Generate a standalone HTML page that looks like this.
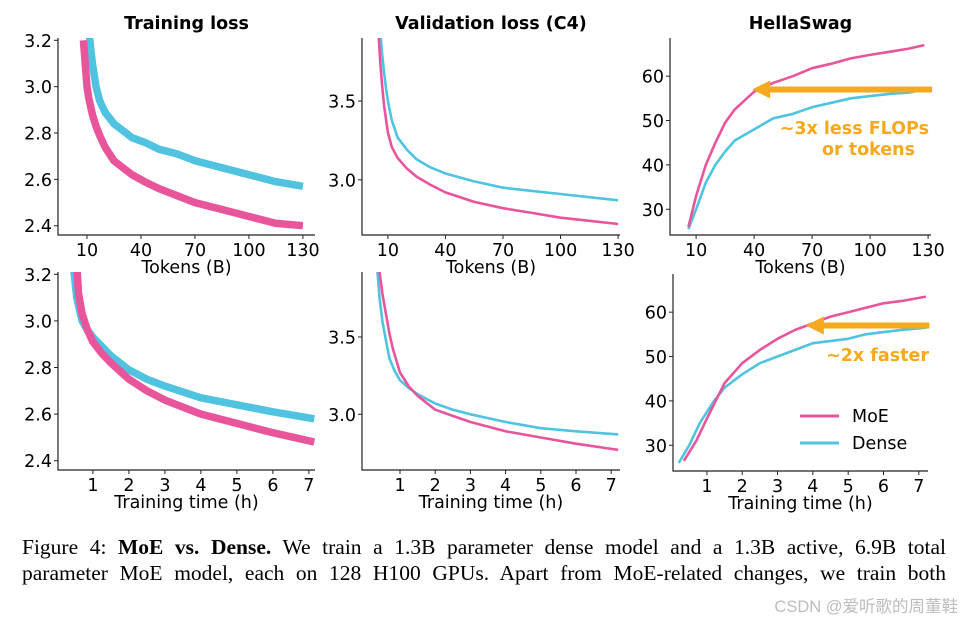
<!DOCTYPE html>
<html><head><meta charset="utf-8"><style>
body{margin:0;background:#fff;width:963px;height:621px;overflow:hidden;position:relative}
svg{position:absolute;left:0;top:0}
.cap{position:absolute;left:22px;width:924px;font-family:"Liberation Serif",serif;font-size:21.5px;text-align:justify;text-align-last:justify;white-space:nowrap;color:#000}
.wm{position:absolute;right:5px;top:593px;font-family:"Liberation Sans","Noto Sans CJK SC",sans-serif;font-size:16.5px;color:#bdbdbd}
</style></head><body>
<svg id="fig" width="963" height="530" font-family="DejaVu Sans, Liberation Sans, sans-serif"></svg>
<div class="cap" style="top:535px">Figure 4: <b>MoE vs. Dense.</b> We train a 1.3B parameter dense model and a 1.3B active, 6.9B total</div>
<div class="cap" style="top:561px">parameter MoE model, each on 128 H100 GPUs. Apart from MoE-related changes, we train both</div>
<div class="wm">CSDN @爱听歌的周董鞋</div>
<script>
// ---- data ----
const tokTrainMoeX=[8,9,10,11,13,15,17,20,25,30,35,42,50,60,70,85,100,115,130];
const tokTrainMoeY=[3.2,3.1,3.0,2.95,2.88,2.83,2.79,2.74,2.68,2.65,2.62,2.59,2.56,2.53,2.50,2.47,2.44,2.41,2.40];
const tokTrainDenseX=[11,12,13,14,15,17,20,25,30,35,42,50,60,70,85,100,115,130];
const tokTrainDenseY=[3.25,3.17,3.1,3.05,3.0,2.94,2.89,2.84,2.81,2.78,2.76,2.73,2.71,2.68,2.65,2.62,2.59,2.57];
const tokValMoeX=[5,6,7,8,10,12,15,20,25,32,40,55,70,85,100,115,130];
const tokValMoeY=[3.95,3.75,3.6,3.47,3.3,3.21,3.14,3.07,3.02,2.97,2.92,2.86,2.82,2.79,2.76,2.74,2.72];
const tokValDenseX=[6,7,8,9,10,12,15,20,25,32,40,55,70,85,100,115,130];
const tokValDenseY=[3.95,3.8,3.68,3.58,3.5,3.38,3.27,3.19,3.13,3.08,3.04,2.99,2.95,2.93,2.91,2.89,2.87];
const tokHsMoeX=[6,10,15,20,25,30,40,50,60,70,80,90,100,110,120,128];
const tokHsMoeY=[26,33,40,45,49.5,52.5,56.5,58.5,60,61.8,62.8,64,64.8,65.5,66.2,67];
const tokHsDenseX=[6,10,15,20,25,30,40,50,60,70,80,90,100,110,120,128];
const tokHsDenseY=[25.5,30,36,40,43,45.5,48,50.5,51.5,53,54,55,55.5,56,56.3,57];
const timeTrainMoeX=[0.55,0.6,0.7,0.85,1.0,1.25,1.5,2,2.5,3,4,5,6,7.15];
const timeTrainMoeY=[3.25,3.12,3.03,2.96,2.91,2.86,2.82,2.75,2.70,2.66,2.60,2.56,2.52,2.48];
const timeTrainDenseX=[0.45,0.55,0.7,0.85,1,1.25,1.5,2,2.5,3,4,5,6,7.15];
const timeTrainDenseY=[3.25,3.1,3.0,2.96,2.93,2.89,2.85,2.79,2.75,2.72,2.67,2.64,2.61,2.58];
const timeValMoeX=[0.4,0.5,0.6,0.7,0.8,1,1.25,1.5,2,2.5,3,4,5,6,7.2];
const timeValMoeY=[3.95,3.78,3.65,3.52,3.42,3.27,3.18,3.12,3.03,2.99,2.95,2.89,2.85,2.81,2.77];
const timeValDenseX=[0.35,0.42,0.5,0.6,0.7,0.85,1,1.25,1.5,2,2.5,3,4,5,6,7.2];
const timeValDenseY=[3.95,3.75,3.6,3.48,3.36,3.28,3.22,3.17,3.13,3.07,3.03,3.0,2.95,2.91,2.89,2.87];
const timeHsMoeX=[0.35,0.7,1,1.5,2,2.5,3,3.5,4,4.5,5,5.5,6,6.5,7.2];
const timeHsMoeY=[26.5,31,36,44,48.5,51.5,54,56,57.5,59,60,61,62,62.5,63.5];
const timeHsDenseX=[0.2,0.5,0.8,1.2,1.5,2,2.5,3,3.5,4,5,5.5,6,6.5,7.2];
const timeHsDenseY=[26,30,35,40,43,46,48.5,50,51.5,53,54,55,55.5,56,56.5];
const tokTicks=[10,40,70,100,130];
const timeTicks=[1,2,3,4,5,6,7];
const lossTicks=[2.4,2.6,2.8,3.0,3.2];
const valTicks=[3.0,3.5];
const hsTicks=[30,40,50,60];
// ---- drawing ----
const NS='http://www.w3.org/2000/svg';
const svg=document.getElementById('fig');
const PINK='#e9559b',CYAN='#4fc3e0',ORANGE='#f6a81e';
function mk(tag,at,parent){const e=document.createElementNS(NS,tag);for(const k in at)e.setAttribute(k,at[k]);(parent||svg).appendChild(e);return e;}
function panel(id,L,R,T,B,xd,yd,xt,yt,xfmt,yfmt,title,xlabel,series){
  const g=mk('g',{});
  
  
  const sx=v=>L+(v-xd[0])/(xd[1]-xd[0])*(R-L);
  const sy=v=>B-(v-yd[0])/(yd[1]-yd[0])*(B-T);
  const cp=mk('clipPath',{id:'c'+id},g);mk('rect',{x:L,y:T,width:R-L,height:B-T},cp);
  series.forEach(s=>{
    const p=mk('polyline',{points:s.x.map((v,i)=>sx(v).toFixed(1)+','+sy(s.y[i]).toFixed(1)).join(' '),fill:'none',stroke:s.c,'stroke-width':s.w,'stroke-linejoin':'round','clip-path':'url(#c'+id+')'},g);
    
    
  });
  mk('path',{d:`M${L},${T}V${B}H${R}`,stroke:'#222',fill:'none','stroke-width':1.2},g);
  xt.forEach(v=>{const x=sx(v);mk('line',{x1:x,x2:x,y1:B,y2:B+4,stroke:'#222'},g);
    const t=mk('text',{x:x,y:B+21,'text-anchor':'middle','font-size':17.5},g);t.textContent=xfmt(v);
    
    });
  yt.forEach(v=>{const y=sy(v);mk('line',{x1:L-4,x2:L,y1:y,y2:y,stroke:'#222'},g);
    const t=mk('text',{x:L-6,y:y+6.5,'text-anchor':'end','font-size':17.5},g);t.textContent=yfmt(v);
    
    });
  if(title){const t=mk('text',{x:(L+R)/2,y:T-9,'text-anchor':'middle','font-size':17.5,'font-weight':'bold'},g);t.textContent=title;
    
    }
  const xl=mk('text',{x:(L+R)/2,y:B+38,'text-anchor':'middle','font-size':17.5},g);xl.textContent=xlabel;
  
  
  return {sx,sy,g};
}
const f1=v=>v.toFixed(1),f0=v=>String(v);
const LW=7.5,VW=2.6;
panel('training-loss-tokens',58,315,38,235,[-6.1,136.7],[2.36,3.21],tokTicks,lossTicks,f0,f1,'Training loss','Tokens (B)',
 [{x:tokTrainDenseX,y:tokTrainDenseY,c:CYAN,w:LW,n:'dense-line'},{x:tokTrainMoeX,y:tokTrainMoeY,c:PINK,w:LW,n:'moe-line'}]);
panel('val-loss-tokens',362,620,38,235,[-3.5,131],[2.65,3.9],tokTicks,valTicks,f0,f1,'Validation loss (C4)','Tokens (B)',
 [{x:tokValDenseX,y:tokValDenseY,c:CYAN,w:VW,n:'dense-line'},{x:tokValMoeX,y:tokValMoeY,c:PINK,w:VW,n:'moe-line'}]);
const p3=panel('hellaswag-tokens',670,931,38,235,[-3.5,131.5],[24.2,68.6],tokTicks,hsTicks,f0,f0,'HellaSwag','Tokens (B)',
 [{x:tokHsDenseX,y:tokHsDenseY,c:CYAN,w:VW,n:'dense-line'},{x:tokHsMoeX,y:tokHsMoeY,c:PINK,w:VW,n:'moe-line'}]);
panel('training-loss-time',58,315,272,470,[0.03,7.17],[2.36,3.21],timeTicks,lossTicks,f0,f1,'','Training time (h)',
 [{x:timeTrainDenseX,y:timeTrainDenseY,c:CYAN,w:LW,n:'dense-line'},{x:timeTrainMoeX,y:timeTrainMoeY,c:PINK,w:LW,n:'moe-line'}]);
panel('val-loss-time',362,620,272,470,[-0.08,7.25],[2.64,3.92],timeTicks,valTicks,f0,f1,'','Training time (h)',
 [{x:timeValDenseX,y:timeValDenseY,c:CYAN,w:VW,n:'dense-line'},{x:timeValMoeX,y:timeValMoeY,c:PINK,w:VW,n:'moe-line'}]);
const p6=panel('hellaswag-time',673,928,274,471,[0.04,7.26],[24.2,68.6],timeTicks,hsTicks,f0,f0,'','Training time (h)',
 [{x:timeHsDenseX,y:timeHsDenseY,c:CYAN,w:VW,n:'dense-line'},{x:timeHsMoeX,y:timeHsMoeY,c:PINK,w:VW,n:'moe-line'}]);
function arrow(p,x1,x2,yv,name){
  const y=p.sy(yv),a=p.sx(x1),b=p.sx(x2);
  const g=mk('g',{},p.g);
  
  
  mk('line',{x1:b,x2:a+14,y1:y,y2:y,stroke:ORANGE,'stroke-width':6},g);
  mk('polygon',{points:`${a},${y} ${a+18},${y-9} ${a+18},${y+9}`,fill:ORANGE},g);
}
arrow(p3,39,132,57,'flops-arrow');
arrow(p6,3.8,7.3,57,'speed-arrow');
function lbl(x,y,s,anchor,name){const t=mk('text',{x,y,'text-anchor':anchor,'font-size':17.5,'font-weight':'bold',fill:ORANGE});t.textContent=s;
  
  }
lbl(929,134,'~3x less FLOPs','end','flops-annotation');
lbl(915,155,'or tokens','end','flops-annotation-2');
lbl(929,361,'~2x faster','end','speed-annotation');
const lg=mk('g',{});


[['MoE',PINK,416],['Dense',CYAN,443]].forEach(([n,c,y])=>{
  mk('line',{x1:800,x2:839,y1:y,y2:y,stroke:c,'stroke-width':3},lg);
  const t=mk('text',{x:852,y:y+6,'font-size':17.5},lg);t.textContent=n;
  
  
});
</script>
</body></html>
